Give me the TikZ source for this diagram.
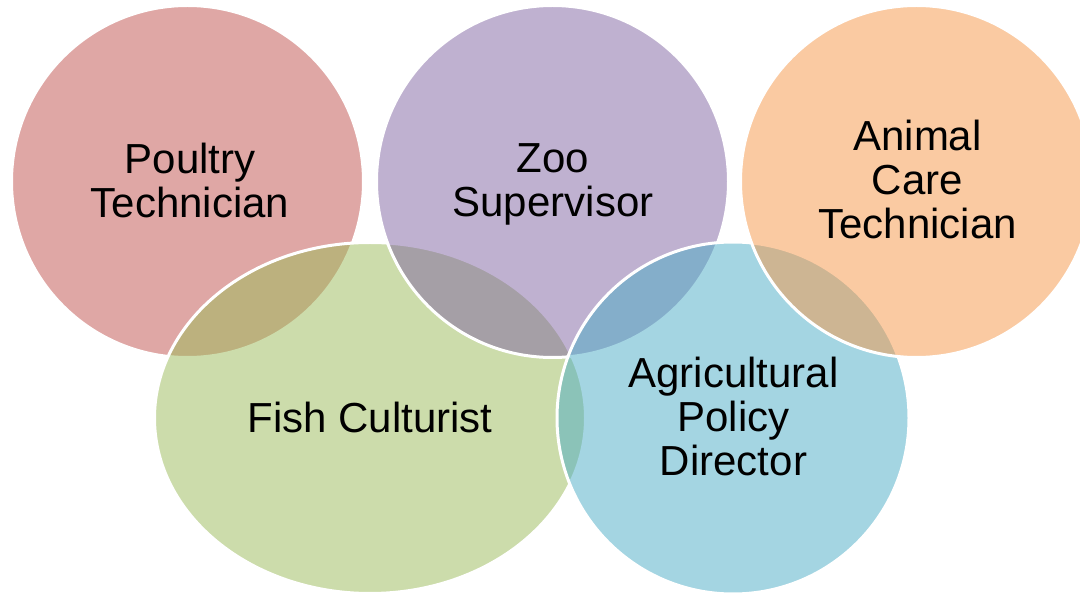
\documentclass[tikz,border=0pt]{standalone}
\usepackage{fontspec}
\setmainfont{Liberation Sans}
\usetikzlibrary{shapes.geometric}
\definecolor{cRed}{HTML}{C0504D}
\definecolor{cGreen}{HTML}{9BBB59}
\definecolor{cPurple}{HTML}{8064A2}
\definecolor{cBlue}{HTML}{4BACC6}
\definecolor{cOrange}{HTML}{F79646}
\begin{document}
\begin{tikzpicture}[x=1pt,y=-1pt,
  ring/.style={circle, draw=white, line width=3pt, fill opacity=0.5, inner sep=0pt, minimum size=352pt},
  oval/.style={ellipse, draw=white, line width=3pt, fill opacity=0.5, inner sep=0pt, minimum width=431pt, minimum height=351pt},
  ringtext/.style={anchor=north, inner sep=0pt, align=center, text=black, font=\fontsize{42}{44}\selectfont}]
\fill[white] (0,0) rectangle (1080,593);
\useasboundingbox (0,0) rectangle (1080,593);
\node[ring, fill=cRed] (poultry) at (187.5,181.5) {};
\node[oval, fill=cGreen] (fish) at (370,418) {};
\node[ring, fill=cPurple] (zoo) at (552.5,181.5) {};
\node[ring, fill=cBlue] (agri) at (733,418) {};
\node[ring, fill=cOrange] (animal) at (916.5,181.5) {};
\node[ringtext] (tpoultry) at (190,143) {Poultry\\Technician};
\node[ringtext] (tzoo) at (553,143) {Zoo\\Supervisor};
\node[ringtext] (tanimal) at (917.5,120) {Animal\\Care\\Technician};
\node[ringtext] (tfish) at (370,402) {Fish Culturist};
\node[ringtext] (tagri) at (733.5,357) {Agricultural\\Policy\\Director};
\end{tikzpicture}
\end{document}
